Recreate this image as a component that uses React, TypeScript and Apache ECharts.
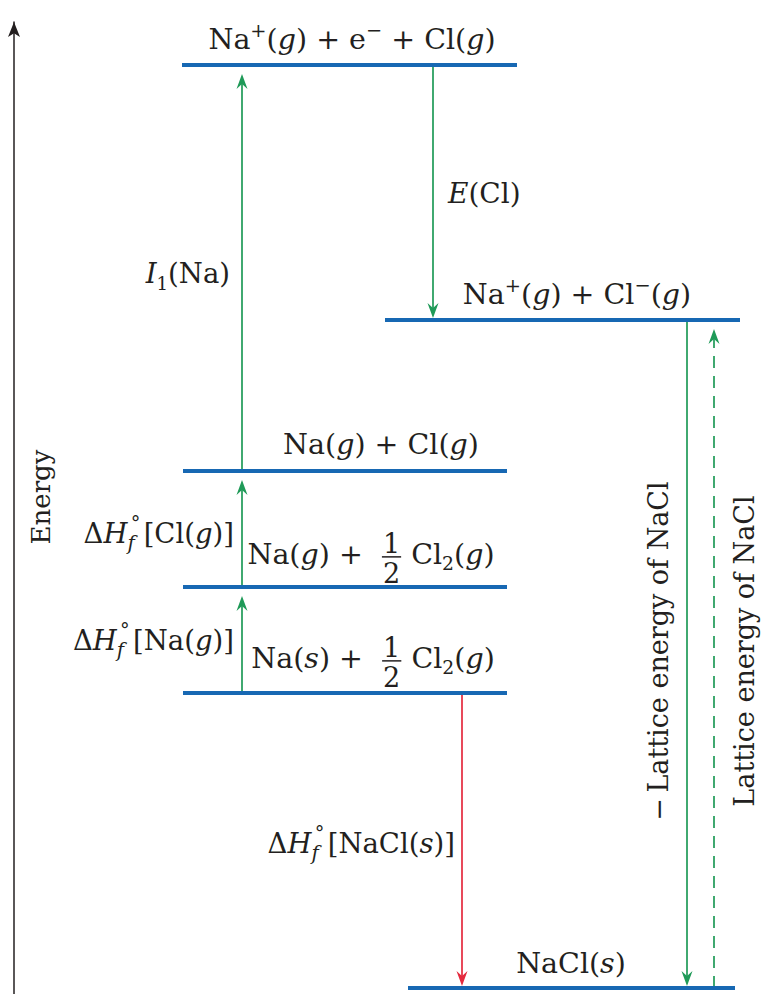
import React, { useEffect, useRef } from "react";
import * as echarts from "echarts";

const FONT = '"DejaVu Serif", "Liberation Serif", serif';
const BLUE = "#1768b3";
const GREEN = "#1f9a58";
const RED = "#e42a3e";
const INK = "#231f20";

// ---- Energy levels (energy in arbitrary diagram units) ----
const levelNames = ["Na+(g)+e-+Cl(g)", "Na+(g)+Cl-(g)", "Na(g)+Cl(g)", "Na(g)+1/2Cl2(g)", "Na(s)+1/2Cl2(g)", "NaCl(s)"];
const levelEnergy = [929, 674, 523, 407, 301, 6];
const levelStart = [182, 385, 183, 183, 183, 408];
const levelEnd = [517, 740, 507, 507, 507, 735];

// ---- Arrows between levels ----
const arrowX = [242, 242, 242, 433, 462, 687, 714];
const arrowFrom = [4, 3, 2, 0, 4, 1, 5];
const arrowTo = [3, 2, 0, 1, 5, 5, 1];
const arrowColor = [GREEN, GREEN, GREEN, GREEN, RED, GREEN, GREEN];
const arrowDashed = [0, 0, 0, 0, 0, 0, 1];

// ---- Text labels ----
type Tok = { t?: string; it?: boolean; sz?: number; dy?: number; over?: boolean; dx?: number; num?: string; den?: string; gap?: number };
const SUP = { sz: 0.68, dy: -0.42 };
const SUB = { sz: 0.66, dy: 0.22 };
const DH: Tok[] = [
  { t: "Δ" },
  { t: "H", it: true },
  { t: "f", it: true, sz: 0.72, dy: 0.26 },
  { t: "°", sz: 0.7, dy: -0.5, over: true, dx: 0.12 },
  { gap: 0.12 },
];
const labelTokens: Tok[][] = [
  [{ t: "Na" }, { t: "+", ...SUP }, { t: "(" }, { t: "g", it: true }, { t: ") + e" }, { t: "−", ...SUP }, { t: " + Cl(" }, { t: "g", it: true }, { t: ")" }],
  [{ t: "Na" }, { t: "+", ...SUP }, { t: "(" }, { t: "g", it: true }, { t: ") + Cl" }, { t: "−", ...SUP }, { t: "(" }, { t: "g", it: true }, { t: ")" }],
  [{ t: "Na(" }, { t: "g", it: true }, { t: ") + Cl(" }, { t: "g", it: true }, { t: ")" }],
  [{ t: "Na(" }, { t: "g", it: true }, { t: ") +  " }, { num: "1", den: "2" }, { t: " Cl" }, { t: "2", ...SUB }, { t: "(" }, { t: "g", it: true }, { t: ")" }],
  [{ t: "Na(" }, { t: "s", it: true }, { t: ") +  " }, { num: "1", den: "2" }, { t: " Cl" }, { t: "2", ...SUB }, { t: "(" }, { t: "g", it: true }, { t: ")" }],
  [{ t: "NaCl(" }, { t: "s", it: true }, { t: ")" }],
  [{ t: "E", it: true }, { t: "(Cl)" }],
  [{ t: "I", it: true }, { t: "1", ...SUB, dy: 0.26 }, { t: "(Na)" }],
  [...DH, { t: "[Cl(" }, { t: "g", it: true }, { t: ")]" }],
  [...DH, { t: "[Na(" }, { t: "g", it: true }, { t: ")]" }],
  [...DH, { t: "[NaCl(" }, { t: "s", it: true }, { t: ")]" }],
  [{ t: "−" }, { gap: 0.2 }, { t: "Lattice energy of NaCl" }],
  [{ t: "Lattice energy of NaCl" }],
  [{ t: "Energy" }],
];
// anchor (baseline point) in data units, alignment and rotation
const labelX = [352, 577, 381, 371, 373, 571, 448, 230, 234, 234, 455, 668, 754, 50];
const labelE = [945, 690, 540, 430, 326, 21, 791, 711, 451, 344, 141, 343, 343, 497];
const labelAlign = ["center", "center", "center", "center", "center", "center", "left", "right", "right", "right", "right", "center", "center", "center"];
const labelRotate = [0, 0, 0, 0, 0, 0, 0, 0, 0, 0, 0, 90, 90, 90];
const labelSize = [28.5, 28.5, 28.5, 28.5, 28.5, 28.5, 28, 27.5, 27.5, 27.5, 27.5, 27, 27, 26];

let measureCtx: CanvasRenderingContext2D | null = null;
function fontOf(size: number, it?: boolean) {
  return `${it ? "italic " : ""}${size}px ${FONT}`;
}
function measure(text: string, size: number, it?: boolean) {
  if (!measureCtx) measureCtx = document.createElement("canvas").getContext("2d");
  measureCtx!.font = fontOf(size, it);
  return measureCtx!.measureText(text).width;
}
const K = 0.35; // central-to-alphabetic baseline offset (em)

function layoutLabel(tokens: Tok[], base: number) {
  const items: any[] = [];
  let x = 0;
  let lastStart = 0;
  for (const tok of tokens) {
    if (tok.gap !== undefined) {
      x += tok.gap * base;
      continue;
    }
    if (tok.num !== undefined) {
      const s = base * 0.95;
      const wN = measure(tok.num, s);
      const wD = measure(tok.den!, s);
      const w = Math.max(wN, wD) + 4;
      items.push({ type: "text", x: x + (w - wN) / 2, y: -0.4 * base - K * s, text: tok.num, size: s });
      items.push({ type: "text", x: x + (w - wD) / 2, y: 0.66 * base - K * s, text: tok.den, size: s });
      items.push({ type: "bar", x1: x + 1, x2: x + w - 1, y: -0.25 * base });
      lastStart = x;
      x += w;
      continue;
    }
    const s = base * (tok.sz || 1);
    const w = measure(tok.t!, s, tok.it);
    let tx = x;
    if (tok.over) tx = lastStart + (tok.dx || 0) * base;
    items.push({ type: "text", x: tx, y: (tok.dy || 0) * base - K * s, text: tok.t, size: s, it: tok.it });
    if (tok.over) {
      x = Math.max(x, tx + w);
    } else {
      lastStart = x;
      x += w;
    }
  }
  return { items, width: x };
}

export default function App() {
  const ref = useRef<HTMLDivElement>(null);
  useEffect(() => {
    document.body.style.margin = "0";
    const chart = echarts.init(ref.current!, null, { renderer: "svg" });

    const levelData = levelEnergy.map((e, i) => [levelStart[i], levelEnd[i], e]);
    const arrowData = arrowX.map((x, i) => [x, levelEnergy[arrowFrom[i]], levelEnergy[arrowTo[i]], i]);
    const labelData = labelX.map((x, i) => [x, labelE[i], i]);

    chart.setOption({
      animation: false,
      backgroundColor: "#ffffff",
      grid: { left: 14, right: 0, top: 22, bottom: 0 },
      xAxis: { type: "value", min: 14, max: 763, show: false },
      yAxis: {
        type: "value",
        min: 0,
        max: 972,
        axisLine: {
          show: true,
          symbol: ["none", "arrow"],
          symbolSize: [9, 15],
          lineStyle: { color: INK, width: 1.5 },
        },
        axisTick: { show: false },
        axisLabel: { show: false },
        splitLine: { show: false },
      },
      series: [
        {
          type: "custom",
          name: "levels",
          silent: true,
          data: levelData,
          renderItem: (params: any, api: any) => {
            const p1 = api.coord([api.value(0), api.value(2)]);
            const p2 = api.coord([api.value(1), api.value(2)]);
            return {
              type: "line",
              shape: { x1: p1[0], y1: p1[1], x2: p2[0], y2: p2[1] },
              style: { stroke: BLUE, lineWidth: 4.2 },
              z2: 10,
            };
          },
        },
        {
          type: "custom",
          name: "arrows",
          silent: true,
          data: arrowData,
          renderItem: (params: any, api: any) => {
            const i = api.value(3);
            const p1 = api.coord([api.value(0), api.value(1)]);
            const p2 = api.coord([api.value(0), api.value(2)]);
            const dir = p2[1] < p1[1] ? -1 : 1; // -1: upward
            const tipY = dir < 0 ? p2[1] + 9 : p2[1] - 2;
            const L = 15;
            const W = 5.5;
            const N = 10;
            const color = arrowColor[i];
            const x = p1[0];
            return {
              type: "group",
              children: [
                {
                  type: "line",
                  shape: { x1: x, y1: p1[1], x2: x, y2: tipY - dir * N },
                  style: {
                    stroke: color,
                    lineWidth: 1.7,
                    lineDash: arrowDashed[i] ? [12, 8] : null,
                  },
                },
                {
                  type: "polygon",
                  shape: {
                    points: [
                      [x, tipY],
                      [x - W, tipY - dir * L],
                      [x, tipY - dir * N],
                      [x + W, tipY - dir * L],
                    ],
                  },
                  style: { fill: color },
                },
              ],
            };
          },
        },
        {
          type: "custom",
          name: "labels",
          silent: true,
          data: labelData,
          renderItem: (params: any, api: any) => {
            const i = api.value(2);
            const p = api.coord([api.value(0), api.value(1)]);
            const base = labelSize[i];
            const { items, width } = layoutLabel(labelTokens[i], base);
            const al = labelAlign[i];
            const off = al === "center" ? -width / 2 : al === "right" ? -width : 0;
            const children = items.map((it: any) =>
              it.type === "bar"
                ? {
                    type: "line",
                    shape: { x1: it.x1 + off, y1: it.y, x2: it.x2 + off, y2: it.y },
                    style: { stroke: INK, lineWidth: 1.5 },
                  }
                : {
                    type: "text",
                    x: it.x + off,
                    y: it.y,
                    style: {
                      text: it.text,
                      font: fontOf(it.size, it.it),
                      fill: INK,
                      align: "left",
                      verticalAlign: "middle",
                    },
                  }
            );
            return {
              type: "group",
              x: p[0],
              y: p[1],
              rotation: (labelRotate[i] * Math.PI) / 180,
              children,
            };
          },
        },
      ],
    });
    return () => chart.dispose();
  }, []);
  return <div ref={ref} style={{ width: 763, height: 994 }} />;
}
